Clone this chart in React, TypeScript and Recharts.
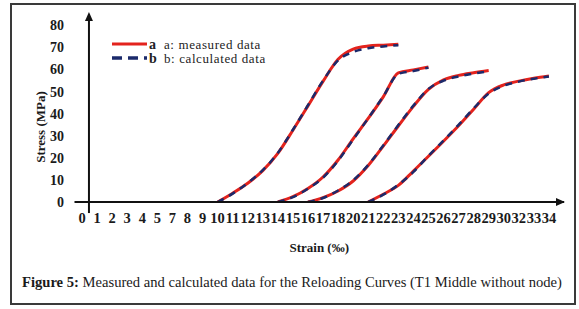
import {
  LineChart,
  Line,
  XAxis,
  YAxis,
  Legend,
  ReferenceLine,
  ReferenceDot,
} from "recharts";

// category labels along the strain axis (6, 19 and 31 are missing in the source)
const strainLabels = [
  "0", "1", "2", "3", "4", "5", "7", "8", "9", "10", "11", "12", "13", "14", "15", "16",
  "17", "18", "20", "21", "22", "23", "24", "25", "26", "27", "28", "29", "30", "32", "33", "34",
];
const stressTicks = [0, 10, 20, 30, 40, 50, 60, 70, 80];

// each curve starts at a category index, then one value per category
const curve1Start = 9;
const curve1Measured = [0, 4, 8.5, 14.2, 22, 32.5, 43.5, 54.6, 64.6, 69.2, 70.6, 71, 71.4];
const curve1Calculated = [0, 3.8, 8.6, 14.4, 22.2, 32.7, 43.8, 54.9, 64.1, 67.9, 69.6, 70.4, 71];

const curve2Start = 13;
const curve2Measured = [0, 2.4, 6.1, 11.3, 19, 28.6, 37.8, 47.6, 58.4, 59.8, 61.1];
const curve2Calculated = [0, 2.2, 6, 11, 18.7, 28.3, 37.9, 47.8, 58, 59.3, 60.8];

const curve3Start = 15;
const curve3Measured = [0, 2, 5, 9.5, 16.5, 25.3, 34.4, 43.3, 51, 55.3, 57.3, 58.5, 59.5];
const curve3Calculated = [0, 1.8, 5.2, 9.8, 16.8, 25.6, 34.8, 43.6, 51.2, 54.9, 56.8, 58.1, 59.2];

const curve4Start = 19;
const curve4Measured = [0, 3.5, 7.5, 14, 20.7, 27.5, 34.5, 42, 49.5, 53, 54.7, 56, 57];
const curve4Calculated = [0, 3.3, 7.8, 13.6, 20.9, 27.8, 34.9, 42.4, 49.1, 52.6, 54.5, 55.8, 56.8];

const MEASURED = "a: measured data";
const CALCULATED = "b: calculated data";
const RED = "#e3231d";
const NAVY = "#1b2a6b";
const FONT = '"Liberation Serif", "Times New Roman", serif';

const toPoints = (start: number, values: number[]) =>
  values.map((y, k) => ({ x: start + k, y }));

const curves = [
  { id: 1, measured: toPoints(curve1Start, curve1Measured), calculated: toPoints(curve1Start, curve1Calculated) },
  { id: 2, measured: toPoints(curve2Start, curve2Measured), calculated: toPoints(curve2Start, curve2Calculated) },
  { id: 3, measured: toPoints(curve3Start, curve3Measured), calculated: toPoints(curve3Start, curve3Calculated) },
  { id: 4, measured: toPoints(curve4Start, curve4Measured), calculated: toPoints(curve4Start, curve4Calculated) },
];

function LegendBox({ payload }: any) {
  const seen = new Set<string>();
  const items = (payload || []).filter((p: any) => {
    if (seen.has(p.value)) return false;
    seen.add(p.value);
    return true;
  });
  return (
    <div style={{ fontFamily: FONT }}>
      {items.map((item: any) => {
        const dashed = item.value === CALCULATED;
        return (
          <div key={item.value} style={{ display: "flex", alignItems: "center", height: 14, lineHeight: "13px" }}>
            <svg width={36} height={8}>
              <line
                x1={0}
                y1={4}
                x2={35}
                y2={4}
                stroke={item.color}
                strokeWidth={dashed ? 3.5 : 3}
                strokeDasharray={dashed ? "10 6" : undefined}
              />
            </svg>
            <span style={{ fontWeight: "bold", fontSize: 14, marginLeft: 1, width: 15, color: "#222" }}>
              {item.value.charAt(0)}
            </span>
            <span style={{ fontSize: 13, letterSpacing: 0.6, color: "#222" }}>{item.value}</span>
          </div>
        );
      })}
    </div>
  );
}

export default function App() {
  return (
    <div style={{ position: "absolute", left: 0, top: 0, width: 579, height: 309, background: "#fff" }}>
      <div
        style={{
          position: "absolute",
          left: 10,
          top: 3,
          width: 566,
          height: 302,
          border: "2px solid #3a3a3a",
          boxSizing: "border-box",
        }}
      />
      <div style={{ position: "absolute", left: 0, top: 0 }}>
        <LineChart width={579} height={260} margin={{ top: 12, right: 15, bottom: 28, left: 14.5 }}>
          <XAxis
            type="number"
            dataKey="x"
            domain={[-0.5, 32]}
            ticks={strainLabels.map((_, i) => i)}
            interval={0}
            tickFormatter={(i: number) => strainLabels[i] ?? ""}
            tickLine={false}
            tickSize={0}
            tickMargin={11}
            axisLine={{ stroke: "#111", strokeWidth: 2 }}
            tick={{ fontFamily: FONT, fontSize: 14.5, fontWeight: "bold", fill: "#1a1a1a" }}
            allowDataOverflow
            label={{
              content: ({ viewBox }: any) => (
                <text
                  x={viewBox.x + viewBox.width / 2}
                  y={viewBox.y + 50}
                  textAnchor="middle"
                  fontFamily={FONT}
                  fontSize={13}
                  fontWeight="bold"
                  fill="#1a1a1a"
                >
                  Strain (‰)
                </text>
              ),
            }}
          />
          <YAxis
            type="number"
            domain={[0, 86]}
            ticks={stressTicks}
            width={60}
            axisLine={false}
            tickLine={false}
            tickSize={0}
            tickMargin={10.5}
            tick={{ fontFamily: FONT, fontSize: 14, fontWeight: "bold", fill: "#1a1a1a" }}
            allowDataOverflow
            label={{
              content: ({ viewBox }: any) => {
                const cx = viewBox.x + 26;
                const cy = viewBox.y + viewBox.height / 2 + 20;
                return (
                  <text
                    x={cx}
                    y={cy}
                    transform={`rotate(-90 ${cx} ${cy})`}
                    textAnchor="middle"
                    dominantBaseline="central"
                    fontFamily={FONT}
                    fontSize={13}
                    fontWeight="bold"
                    fill="#1a1a1a"
                  >
                    Stress (MPa)
                  </text>
                );
              },
            }}
          />
          <ReferenceLine
            segment={[
              { x: 0.46, y: -5 },
              { x: 0.46, y: 84 },
            ]}
            stroke="#111"
            strokeWidth={2}
            ifOverflow="visible"
          />
          <ReferenceDot
            x={0.46}
            y={86}
            ifOverflow="visible"
            shape={(p: any) => (
              <path d={`M${p.cx},${p.cy} L${p.cx - 4},${p.cy + 9} L${p.cx + 4},${p.cy + 9} Z`} fill="#111" />
            )}
          />
          <ReferenceDot
            x={32}
            y={0}
            ifOverflow="visible"
            shape={(p: any) => (
              <path d={`M${p.cx + 1},${p.cy} L${p.cx - 8},${p.cy - 4} L${p.cx - 8},${p.cy + 4} Z`} fill="#111" />
            )}
          />
          {curves.map((c) => (
            <Line
              key={`m${c.id}`}
              data={c.measured}
              dataKey="y"
              name={MEASURED}
              type="monotone"
              stroke={RED}
              strokeWidth={3}
              dot={false}
              activeDot={false}
              isAnimationActive={false}
            />
          ))}
          {curves.map((c) => (
            <Line
              key={`c${c.id}`}
              data={c.calculated}
              dataKey="y"
              name={CALCULATED}
              type="monotone"
              stroke={NAVY}
              strokeWidth={2.5}
              strokeDasharray="7 6"
              dot={false}
              activeDot={false}
              isAnimationActive={false}
            />
          ))}
          <Legend
            layout="vertical"
            align="center"
            verticalAlign="middle"
            content={<LegendBox />}
            wrapperStyle={{ position: "absolute", left: 112, top: 37, width: "auto", height: "auto" }}
          />
        </LineChart>
      </div>
      <div
        style={{
          position: "absolute",
          left: 22,
          top: 272,
          fontFamily: FONT,
          fontSize: 14.6,
          lineHeight: "20px",
          whiteSpace: "nowrap",
          color: "#1a1a1a",
        }}
      >
        <b>Figure 5:</b> Measured and calculated data for the Reloading Curves (T1 Middle without node)
      </div>
    </div>
  );
}
